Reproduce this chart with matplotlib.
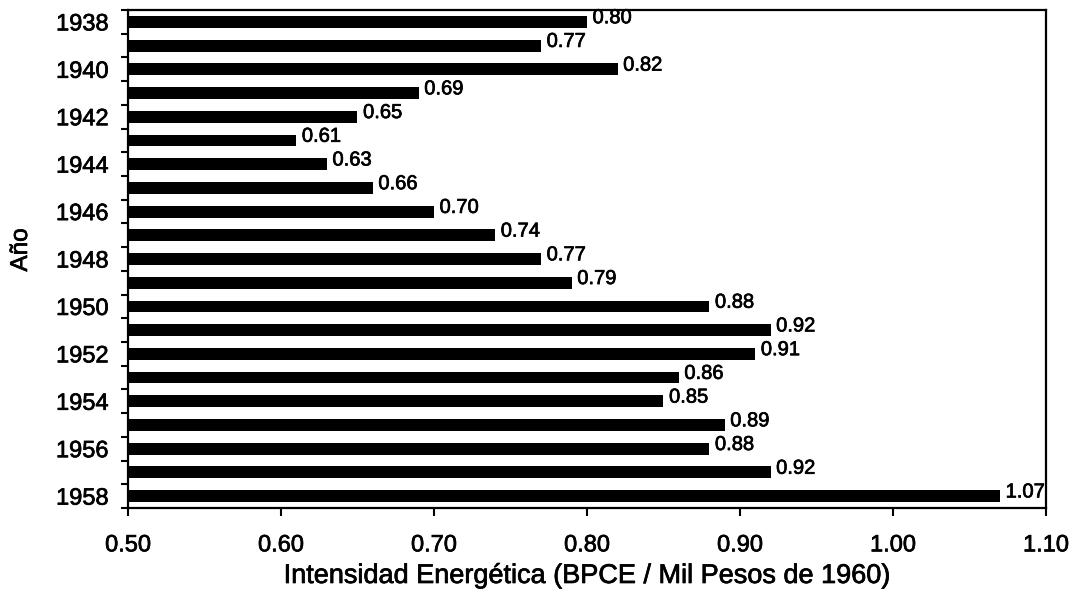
import matplotlib
matplotlib.use("Agg")
import matplotlib.pyplot as plt
import matplotlib.patheffects as pe
import numpy as np

years = list(range(1938, 1959))
intensity = [0.80, 0.77, 0.82, 0.69, 0.65, 0.61, 0.63, 0.66, 0.70, 0.74,
             0.77, 0.79, 0.88, 0.92, 0.91, 0.86, 0.85, 0.89, 0.88, 0.92, 1.07]
x_ticks = [0.50, 0.60, 0.70, 0.80, 0.90, 1.00, 1.10]
labeled_years = years[::2]

plt.rcParams['font.family'] = ['Liberation Sans', 'DejaVu Sans']
heavy = [pe.withStroke(linewidth=0.5, foreground='black')]

fig = plt.figure(figsize=(10.73, 5.97), dpi=100)
ax = fig.add_axes([0.1193, 0.1491, 0.9748 - 0.1193, 0.9832 - 0.1491])

pos = np.arange(len(years))
ax.barh(pos, intensity, height=0.5, color='black', left=0)

for p, v in zip(pos, intensity):
    ax.annotate(f"{v:.2f}", xy=(v, p), xytext=(4, 3), textcoords='offset points',
                ha='left', va='center', fontsize=14.5, color='black',
                path_effects=heavy)

ax.set_xlim(0.5, 1.1)
ax.set_ylim(len(years) - 0.5, -0.5)

ax.set_xticks(x_ticks)
ax.set_xticklabels([f"{t:.2f}" for t in x_ticks], fontsize=17)
ax.tick_params(axis='x', direction='out', length=6, width=1.5, pad=13)

# tick marks at category boundaries, year labels at category centres
ax.set_yticks(np.arange(len(years) + 1) - 0.5)
ax.set_yticklabels([])
ax.tick_params(axis='y', which='major', direction='out', length=5, width=1.5)
ax.set_yticks([years.index(y) for y in labeled_years], minor=True)
ax.set_yticklabels([str(y) for y in labeled_years], minor=True, fontsize=17)
ax.tick_params(axis='y', which='minor', length=0, pad=14)

for lab in ax.get_xticklabels() + ax.get_yticklabels(minor=True):
    lab.set_path_effects(heavy)

for s in ax.spines.values():
    s.set_linewidth(1.6)
    s.set_color('black')

fig.text(0.5475, 1 - 576 / 597, "Intensidad Energética (BPCE / Mil Pesos de 1960)",
         ha='center', va='center', fontsize=19.5, path_effects=heavy)
fig.text(21 / 1073, 1 - 250 / 597, "Año", rotation=90, ha='center', va='center',
         fontsize=17.5, path_effects=heavy)

fig.savefig("out.png", dpi=100)
